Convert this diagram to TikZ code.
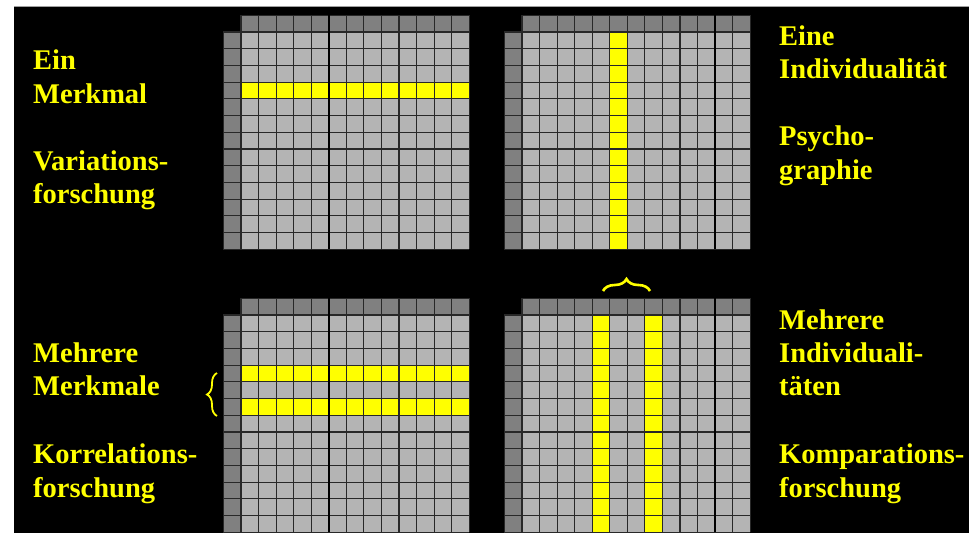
\documentclass[tikz,border=0pt]{standalone}
\usepackage{fontspec}
\setmainfont{Liberation Serif}
\usetikzlibrary{decorations.pathreplacing}
\definecolor{cellgray}{RGB}{180,180,180}
\definecolor{headgray}{RGB}{128,128,128}
\definecolor{gridcol}{RGB}{40,40,40}
\definecolor{hiyellow}{RGB}{255,255,0}
\definecolor{edgegray}{RGB}{160,160,160}
\def\cw{17.56}
\def\ch{16.72}
\newcommand\gridbase[2]{%
  \fill[headgray] ({#1},{#2-\ch}) rectangle ({#1+13*\cw},{#2});
  \fill[headgray] ({#1-\cw},{#2}) rectangle ({#1},{#2+13*\ch});
  \fill[cellgray] ({#1},{#2}) rectangle ({#1+13*\cw},{#2+13*\ch});
}
\newcommand\gridlines[3]{%
  \foreach \i in {0,...,13} {
    \draw[gridln] ({#1+\i*\cw},{#2-\ch}) -- ({#1+\i*\cw},{#2+13*\ch});
  }
  \draw[gridln] ({#1},{#2-\ch}) -- ({#1+13*\cw},{#2-\ch});
  \foreach \j in {0,...,13} {
    \draw[gridln] ({#1-\cw},{#2+\j*\ch}) -- ({#1+13*\cw},{#2+\j*\ch});
  }
  \draw[gridln] ({#1-\cw},{#2}) -- ({#1-\cw},{#2+13*\ch});
  \draw[thickln] ({#1+#3*\cw},{#2-\ch}) -- ({#1+#3*\cw},{#2+13*\ch});
}
\begin{document}
\begin{tikzpicture}[x=1pt,y=-1pt,
  gridln/.style={draw=gridcol,line width=1.1pt},
  thickln/.style={draw=black,line width=2.2pt},
  lbl/.style={anchor=base west,inner sep=0pt,text=hiyellow,font=\fontsize{28.5}{33}\selectfont\bfseries},
  bracey/.style={draw=hiyellow,line width=1.8pt,decorate}]
\useasboundingbox (0,0) rectangle (969,533);
\fill[white] (0,0) rectangle (969,533);
\fill[black] (14,7) rectangle (969,533);
\draw[edgegray,line width=1.2pt] (14,6.4) -- (969,6.4);

% top-left grid
\gridbase{241}{32}
\fill[hiyellow] ({241},{32+3*\ch}) rectangle ({241+13*\cw},{32+4*\ch});
\gridlines{241}{32}{5}

% top-right grid
\gridbase{522}{32}
\fill[hiyellow] ({522+5*\cw},{32}) rectangle ({522+6*\cw},{32+13*\ch});
\gridlines{522}{32}{11}

% bottom-left grid
\gridbase{241}{315}
\fill[hiyellow] ({241},{315+3*\ch}) rectangle ({241+13*\cw},{315+4*\ch});
\fill[hiyellow] ({241},{315+5*\ch}) rectangle ({241+13*\cw},{315+6*\ch});
\gridlines{241}{315}{5}

% bottom-right grid
\gridbase{522}{315}
\fill[hiyellow] ({522+4*\cw},{315}) rectangle ({522+5*\cw},{315+13*\ch});
\fill[hiyellow] ({522+7*\cw},{315}) rectangle ({522+8*\cw},{315+13*\ch});
\gridlines{522}{315}{11}

% braces
\coordinate (bla) at (217,416);
\coordinate (blb) at (217,373);
\draw[bracey,decoration={brace,amplitude=10pt}] (bla) -- (blb);
\coordinate (bra) at (603,291);
\coordinate (brb) at (650,291);
\draw[bracey,line width=2.6pt,decoration={brace,amplitude=12pt}] (bra) -- (brb);

% texts top-left
\node[lbl] (tl1) at (33,69.3) {Ein};
\node[lbl] (tl2) at (33,103) {Merkmal};
\node[lbl] (tl3) at (33,170) {Variations-};
\node[lbl] (tl4) at (33,203) {forschung};
% texts top-right
\node[lbl] (tr1) at (779,45) {Eine};
\node[lbl] (tr2) at (779,78.5) {Individualität};
\node[lbl] (tr3) at (779,145.5) {Psycho-};
\node[lbl] (tr4) at (779,179) {graphie};
% texts bottom-left
\node[lbl] (bl1) at (33,362.5) {Mehrere};
\node[lbl] (bl2) at (33,395.5) {Merkmale};
\node[lbl] (bl3) at (33,463.3) {Korrelations-};
\node[lbl] (bl4) at (33,497) {forschung};
% texts bottom-right
\node[lbl] (br1) at (779,329.3) {Mehrere};
\node[lbl] (br2) at (779,362.5) {Individuali-};
\node[lbl] (br3) at (779,395.5) {täten};
\node[lbl] (br4) at (779,463.3) {Komparations-};
\node[lbl] (br5) at (779,497) {forschung};
\end{tikzpicture}
\end{document}
